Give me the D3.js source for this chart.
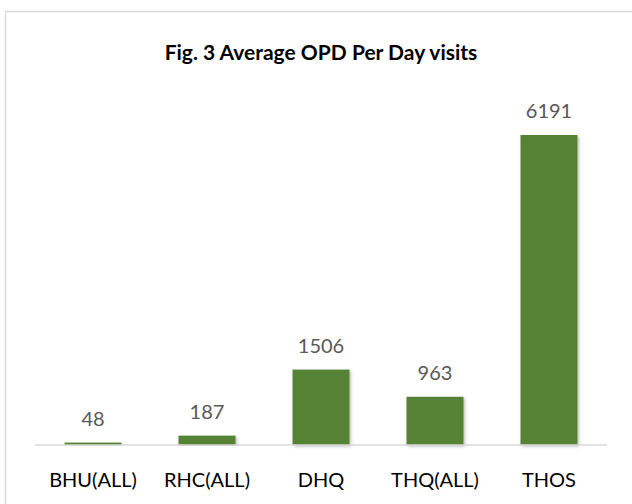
<!DOCTYPE html>
<html>
<head>
<meta charset="utf-8">
<script src="https://cdn.jsdelivr.net/npm/d3@7"></script>
<style>
  body { margin: 0; background: #fff; }
  svg { display: block; }
</style>
</head>
<body>
<svg id="chart"></svg>
<script>
// data
var categories = ['BHU(ALL)', 'RHC(ALL)', 'DHQ', 'THQ(ALL)', 'THOS'];
var values = [48, 187, 1506, 963, 6191];
var title = 'Fig. 3 Average OPD Per Day visits';

var svgWidth = 632,
    svgHeight = 504;

var svg = d3.select('#chart')
    .attr('width', svgWidth)
    .attr('height', svgHeight);

// shadow under the bars
var defs = svg.append('defs');
var filter = defs.append('filter')
    .attr('id', 'shadow')
    .attr('x', '-20%').attr('y', '-5%')
    .attr('width', '140%').attr('height', '115%');
filter.append('feDropShadow')
    .attr('dx', 1.5).attr('dy', 1.5)
    .attr('stdDeviation', 1.5)
    .attr('flood-color', '#000')
    .attr('flood-opacity', 0.25);

// chart frame (runs past the right and bottom edges)
svg.append('rect')
    .attr('x', 5.5)
    .attr('y', 11.5)
    .attr('width', 700)
    .attr('height', 600)
    .attr('fill', '#fff')
    .attr('stroke', '#d9d9d9')
    .attr('stroke-width', 1.5);

var margin = { left: 36, right: 26, top: 94.5, baseline: 445 };

var x = d3.scaleBand()
    .domain(categories)
    .range([margin.left, svgWidth - margin.right])
    .paddingInner(0.5)
    .paddingOuter(0.25);

var y = d3.scaleLinear()
    .domain([0, 7000])
    .range([margin.baseline, margin.top]);

svg.append('text')
    .attr('x', (margin.left + svgWidth - margin.right) / 2)
    .attr('y', 60)
    .attr('text-anchor', 'middle')
    .attr('font-family', 'Lato, sans-serif')
    .attr('font-weight', 'bold')
    .attr('font-size', 21)
    .attr('fill', '#000')
    .text(title);

var data = categories.map(function (c, i) {
    return { name: c, value: values[i] };
});

svg.selectAll('.bar')
    .data(data)
    .enter()
    .append('rect')
    .attr('class', 'bar')
    .attr('x', function (d) { return x(d.name); })
    .attr('y', function (d) { return y(d.value); })
    .attr('width', x.bandwidth())
    .attr('height', function (d) { return y(0) - y(d.value); })
    .attr('fill', '#548235')
    .attr('filter', 'url(#shadow)');

// baseline axis
var xAxis = svg.append('g')
    .attr('transform', 'translate(0,' + y(0) + ')')
    .call(d3.axisBottom(x).tickSize(0).tickPadding(28));

xAxis.select('.domain')
    .attr('stroke', '#d9d9d9')
    .attr('stroke-width', 1.5)
    .attr('d', 'M' + (margin.left - 1) + ',0H' + (svgWidth - margin.right + 1));

xAxis.selectAll('text')
    .attr('font-family', 'Lato, sans-serif')
    .attr('font-size', 20)
    .attr('fill', '#000');

svg.selectAll('.value')
    .data(data)
    .enter()
    .append('text')
    .attr('class', 'value')
    .attr('x', function (d) { return x(d.name) + x.bandwidth() / 2; })
    .attr('y', function (d) { return y(d.value) - 17; })
    .attr('text-anchor', 'middle')
    .attr('font-family', 'Lato, sans-serif')
    .attr('font-size', 20)
    .attr('fill', '#595959')
    .text(function (d) { return d.value; });
</script>
</body>
</html>
